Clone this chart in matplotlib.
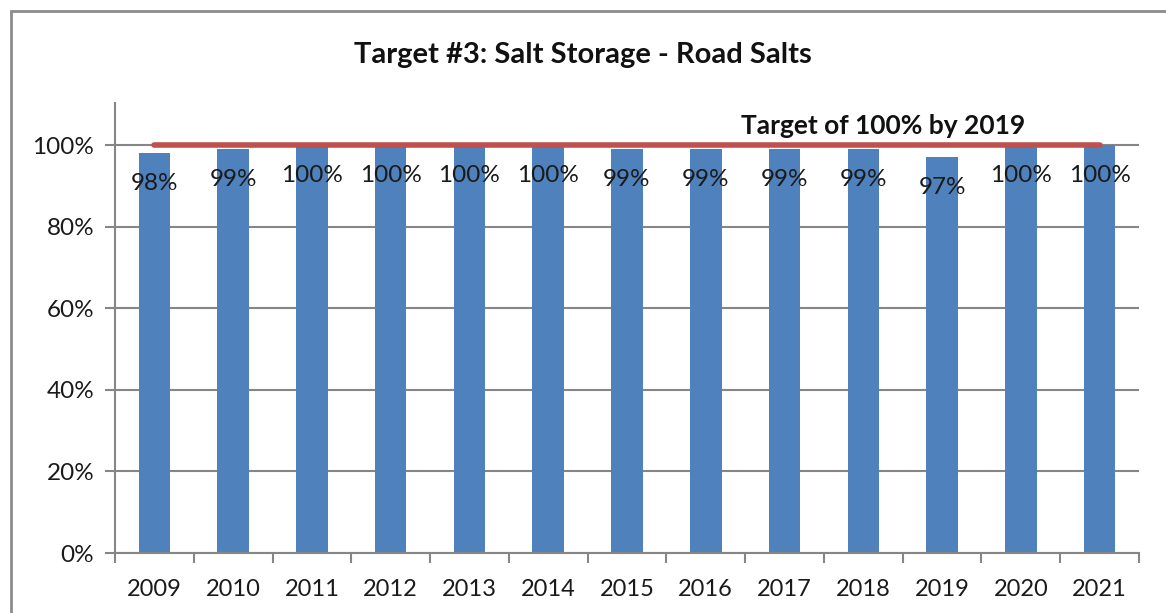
import matplotlib.pyplot as plt
import matplotlib.patches as mpatches
import numpy as np

years = ['2009', '2010', '2011', '2012', '2013', '2014', '2015',
         '2016', '2017', '2018', '2019', '2020', '2021']
values = [0.98, 0.99, 1.00, 1.00, 1.00, 1.00, 0.99,
          0.99, 0.99, 0.99, 0.97, 1.00, 1.00]
labels = ['98%', '99%', '100%', '100%', '100%', '100%', '99%',
          '99%', '99%', '99%', '97%', '100%', '100%']
target = 1.0
target_text = 'Target of 100% by 2019'
yticks = [0, 0.2, 0.4, 0.6, 0.8, 1.0]
ytick_labels = ['0%', '20%', '40%', '60%', '80%', '100%']

plt.rcParams['font.family'] = ['Lato', 'DejaVu Sans']
grey = '#868686'

fig = plt.figure(figsize=(11.66, 6.13), dpi=100)
# chart frame (left and top edges visible)
fig.patches.append(mpatches.Rectangle((11/1166, -0.1), 1.2, 1 - 11/613 + 0.1,
                                      transform=fig.transFigure, fill=False,
                                      edgecolor='#8c8c8c', linewidth=2))

ax = fig.add_axes([115/1166, 1 - 553/613, (1139 - 115)/1166, (553 - 103)/613])
x = np.arange(len(years))
ax.bar(x, values, width=0.4, color='#4F81BD', zorder=2)

ax.set_ylim(0, 1.103)
ax.set_xlim(-0.5, len(years) - 0.5)
ax.set_yticks(yticks)
ax.set_yticklabels(ytick_labels, fontsize=17.5, color='#1a1a1a')
ax.set_xticks(x)
ax.set_xticklabels(years, fontsize=17, color='#1a1a1a')
ax.set_xticks(np.arange(len(years) + 1) - 0.5, minor=True)
ax.tick_params(axis='x', which='major', length=0, pad=19)
ax.tick_params(axis='x', which='minor', length=7, width=1.5, color=grey)
ax.tick_params(axis='y', length=7, width=1.5, color=grey, pad=8)

ax.grid(axis='y', color=grey, linewidth=1.5, zorder=0)
ax.set_axisbelow(True)
for s in ['top', 'right']:
    ax.spines[s].set_visible(False)
for s in ['left', 'bottom']:
    ax.spines[s].set_color(grey)
    ax.spines[s].set_linewidth(1.5)

# target line
ax.plot([x[0], x[-1]], [target, target], color='#C0504D', linewidth=4,
        solid_capstyle='round', zorder=3)
ax.text(9.25, target + 0.018, target_text, ha='center', va='bottom',
        fontsize=19, fontweight='bold', color='#111111')

for xi, v, lab in zip(x, values, labels):
    ax.annotate(lab, (xi, v), xytext=(0, -22), textcoords='offset points',
                ha='center', va='center', fontsize=17.5, color='#1a1a1a', zorder=4)

fig.text(0.5, 1 - 55/613, 'Target #3: Salt Storage - Road Salts', ha='center',
         va='center', fontsize=21, fontweight='bold', color='#111111')

fig.savefig('out.png', dpi=100)
